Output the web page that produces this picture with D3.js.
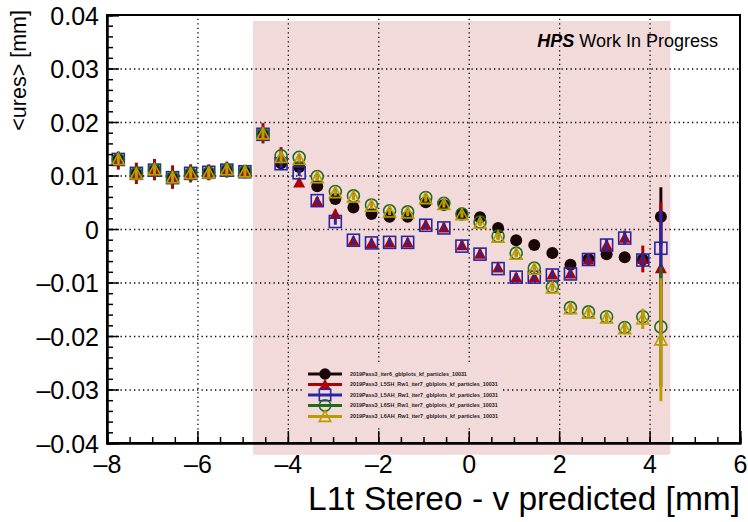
<!DOCTYPE html>
<html>
<head>
<meta charset="utf-8">
<script src="https://cdn.jsdelivr.net/npm/d3@7"></script>
<style>
  html, body { margin: 0; padding: 0; background: #ffffff; }
  svg { display: block; font-family: "Liberation Sans", Arial, Helvetica, sans-serif; }
</style>
</head>
<body>
<svg id="chart" width="748" height="522"></svg>
<script>
// Bin centres of the predicted v position [mm]
const binCenters = [-7.75, -7.35, -6.95, -6.55, -6.15, -5.75, -5.35, -4.95, -4.55, -4.15,
  -3.75, -3.35, -2.95, -2.55, -2.15, -1.75, -1.35, -0.95, -0.55, -0.15,
  0.25, 0.65, 1.05, 1.45, 1.85, 2.25, 2.65, 3.05, 3.45, 3.85, 4.25];

// Mean residual <ures> [mm] per sample
const iter6Mean = [0.0130, 0.0103, 0.0110, 0.0095, 0.0104, 0.0105, 0.0110, 0.0107, 0.0176, 0.0123,
  0.0116, 0.0080, 0.0056, 0.0040, 0.0028, 0.0023, 0.0023, 0.0050, 0.0045, 0.0029,
  0.0022, 0.0002, -0.0021, -0.0030, -0.0045, -0.0067, -0.0056, -0.0047, -0.0053, -0.0057, 0.0023];
const l5shMean = [0.0128, 0.0104, 0.0111, 0.0097, 0.0104, 0.0106, 0.0111, 0.0108, 0.0179, 0.0136,
  0.0087, 0.0052, 0.0028, -0.0022, -0.0026, -0.0025, -0.0025, 0.0008, 0.0003, -0.0030,
  -0.0046, -0.0072, -0.0090, -0.0090, -0.0085, -0.0083, -0.0057, -0.0030, -0.0016, -0.0056, -0.0073];
const l5ahMean = [0.0130, 0.0104, 0.0110, 0.0096, 0.0104, 0.0106, 0.0110, 0.0107, 0.0177, 0.0122,
  0.0105, 0.0053, 0.0014, -0.0021, -0.0026, -0.0025, -0.0025, 0.0007, 0.0002, -0.0032,
  -0.0047, -0.0074, -0.0090, -0.0090, -0.0086, -0.0084, -0.0057, -0.0030, -0.0017, -0.0058, -0.0036];
const l6shMean = [0.0130, 0.0104, 0.0110, 0.0096, 0.0103, 0.0105, 0.0110, 0.0107, 0.0177, 0.0137,
  0.0134, 0.0098, 0.0070, 0.0062, 0.0045, 0.0034, 0.0032, 0.0059, 0.0048, 0.0028,
  0.0013, -0.0013, -0.0045, -0.0073, -0.0108, -0.0147, -0.0155, -0.0164, -0.0184, -0.0164, -0.0183];
const l6ahMean = [0.0130, 0.0103, 0.0111, 0.0096, 0.0104, 0.0105, 0.0111, 0.0107, 0.0178, 0.0134,
  0.0130, 0.0096, 0.0068, 0.0060, 0.0043, 0.0032, 0.0030, 0.0057, 0.0046, 0.0027,
  0.0011, -0.0015, -0.0047, -0.0075, -0.0110, -0.0149, -0.0157, -0.0166, -0.0186, -0.0168, -0.0207];

// Statistical uncertainty on the mean [mm]
const iter6Err = [0.0008, 0.0008, 0.0008, 0.0008, 0.0008, 0.0008, 0.0008, 0.0008, 0.0008, 0.0008,
  0.0006, 0.0006, 0.0006, 0.0006, 0.0006, 0.0006, 0.0006, 0.0006, 0.0006, 0.0006,
  0.0006, 0.0006, 0.0006, 0.0006, 0.0006, 0.0007, 0.0007, 0.0008, 0.0009, 0.0012, 0.0055];
const l5shErr = [0.0017, 0.0020, 0.0020, 0.0022, 0.0017, 0.0015, 0.0015, 0.0012, 0.0019, 0.0017,
  0.0008, 0.0008, 0.0008, 0.0008, 0.0008, 0.0008, 0.0008, 0.0008, 0.0008, 0.0008,
  0.0008, 0.0008, 0.0008, 0.0008, 0.0008, 0.0009, 0.0010, 0.0011, 0.0013, 0.0025, 0.0123];
const l5ahErr = [0.0008, 0.0008, 0.0008, 0.0008, 0.0008, 0.0008, 0.0008, 0.0008, 0.0008, 0.0008,
  0.0006, 0.0006, 0.0006, 0.0006, 0.0006, 0.0006, 0.0006, 0.0006, 0.0006, 0.0006,
  0.0006, 0.0006, 0.0006, 0.0006, 0.0006, 0.0007, 0.0007, 0.0008, 0.0009, 0.0012, 0.0072];
const l6shErr = [0.0008, 0.0008, 0.0008, 0.0008, 0.0008, 0.0008, 0.0008, 0.0008, 0.0008, 0.0008,
  0.0006, 0.0006, 0.0006, 0.0006, 0.0006, 0.0006, 0.0006, 0.0006, 0.0006, 0.0006,
  0.0006, 0.0006, 0.0006, 0.0006, 0.0006, 0.0007, 0.0007, 0.0008, 0.0009, 0.0012, 0.0112];
const l6ahErr = [0.0008, 0.0008, 0.0008, 0.0008, 0.0008, 0.0008, 0.0008, 0.0008, 0.0008, 0.0008,
  0.0006, 0.0006, 0.0006, 0.0006, 0.0006, 0.0006, 0.0006, 0.0006, 0.0006, 0.0006,
  0.0006, 0.0006, 0.0006, 0.0006, 0.0006, 0.0007, 0.0007, 0.0008, 0.0009, 0.0019, 0.0115];

const seriesNames = [
  "2019Pass3_iter6_gblplots_kf_particles_10031",
  "2019Pass3_L5SH_Rw1_iter7_gblplots_kf_particles_10031",
  "2019Pass3_L5AH_Rw1_iter7_gblplots_kf_particles_10031",
  "2019Pass3_L6SH_Rw1_iter7_gblplots_kf_particles_10031",
  "2019Pass3_L6AH_Rw1_iter7_gblplots_kf_particles_10031"
];

// Axis ticks
const xMajorTicks = [-8, -6, -4, -2, 0, 2, 4, 6];
const yMajorTicks = [-0.04, -0.03, -0.02, -0.01, 0, 0.01, 0.02, 0.03, 0.04];

// Sensor acceptance band [mm] (x range) and its vertical extent in <ures> units
const acceptanceX = [-4.77, 4.46];
const acceptanceY = [0.0389, -0.0422];

// ---------------------------------------------------------------
const svg = d3.select("#chart");
const frame = { left: 107, right: 740, top: 15, bottom: 443 };

const x = d3.scaleLinear().domain([-8, 6]).range([frame.left, frame.right]);
const y = d3.scaleLinear().domain([-0.04, 0.04]).range([frame.bottom, frame.top]);

// Number formats using an en dash as the minus sign
const dashFmt = f => v => f(v).replace("\u2212", "\u2013");
const fmtX = dashFmt(d3.format("d"));
const fmtY = v => Math.abs(v) < 1e-9 ? "0" : dashFmt(d3.format(".2f"))(v);

const styles = [
  { color: "#1a0606", shape: "circle", fill: true },
  { color: "#b00000", shape: "triangle", fill: true },
  { color: "#2626a6", shape: "square", fill: false },
  { color: "#1f6b1f", shape: "circle", fill: false },
  { color: "#bb9c00", shape: "triangle", fill: false }
];
const means = [iter6Mean, l5shMean, l5ahMean, l6shMean, l6ahMean];
const errs = [iter6Err, l5shErr, l5ahErr, l6shErr, l6ahErr];

// Acceptance band
svg.append("rect")
  .attr("x", x(acceptanceX[0]))
  .attr("y", y(acceptanceY[0]))
  .attr("width", x(acceptanceX[1]) - x(acceptanceX[0]))
  .attr("height", y(acceptanceY[1]) - y(acceptanceY[0]))
  .attr("fill", "#f3dada");

// Dotted grid
const xMinor = d3.range(-8, 6.001, 0.5);
const yMinor = d3.range(-0.04, 0.0401, 0.002);

const gridX = svg.append("g")
  .attr("transform", `translate(0,${frame.bottom})`)
  .call(d3.axisBottom(x).tickValues(xMajorTicks.filter(v => v > -8 && v < 6))
    .tickSize(-(frame.bottom - frame.top)).tickFormat(""));
const gridY = svg.append("g")
  .attr("transform", `translate(${frame.left},0)`)
  .call(d3.axisLeft(y).tickValues(yMajorTicks.filter(v => Math.abs(v) < 0.039))
    .tickSize(-(frame.right - frame.left)).tickFormat(""));
[gridX, gridY].forEach(g => {
  g.select(".domain").remove();
  g.selectAll("line").attr("stroke", "#000").attr("stroke-width", 1.3)
    .attr("stroke-dasharray", "1.3,3.2");
});

// Legend box (hides grid beneath it)
const legendBox = { x: 303, y: 365, w: 200, h: 60 };
svg.append("rect")
  .attr("x", legendBox.x).attr("y", legendBox.y)
  .attr("width", legendBox.w).attr("height", legendBox.h)
  .attr("fill", "#f3dada");

// Marker drawing helper
function drawMarker(sel, st, scale) {
  const s = scale || 1;
  if (st.shape === "circle") {
    sel.append("circle")
      .attr("r", 6 * s)
      .attr("fill", st.fill ? st.color : "none")
      .attr("stroke", st.color)
      .attr("stroke-width", st.fill ? 0 : 1.6);
  } else if (st.shape === "square") {
    sel.append("rect")
      .attr("x", -6 * s).attr("y", -6 * s)
      .attr("width", 12 * s).attr("height", 12 * s)
      .attr("fill", "none")
      .attr("stroke", st.color)
      .attr("stroke-width", 1.6);
  } else {
    const h = 6 * s, w = 6 * s;
    sel.append("path")
      .attr("d", `M0,${-h}L${w},${h * 0.85}L${-w},${h * 0.85}Z`)
      .attr("fill", st.fill ? st.color : "none")
      .attr("stroke", st.color)
      .attr("stroke-width", st.fill ? 0 : 1.6)
      .attr("stroke-linejoin", "miter");
  }
}

// Data: error bars and markers, one series after another
means.forEach((vals, si) => {
  const st = styles[si];
  const g = svg.append("g");
  const pts = binCenters.map((xv, i) => ({ x: xv, y: vals[i], e: errs[si][i] }));
  g.selectAll("line.err").data(pts).join("line")
    .attr("class", "err")
    .attr("x1", d => x(d.x)).attr("x2", d => x(d.x))
    .attr("y1", d => y(d.y + d.e)).attr("y2", d => y(d.y - d.e))
    .attr("stroke", st.color).attr("stroke-width", 3);
  g.selectAll("g.pt").data(pts).join("g")
    .attr("class", "pt")
    .attr("transform", d => `translate(${x(d.x)},${y(d.y)})`)
    .each(function () { drawMarker(d3.select(this), st); });
});

// Frame
svg.append("rect")
  .attr("x", frame.left).attr("y", frame.top)
  .attr("width", frame.right - frame.left).attr("height", frame.bottom - frame.top)
  .attr("fill", "none").attr("stroke", "#000").attr("stroke-width", 2);

// X axis: major + minor ticks pointing inward
const xAxisMajor = svg.append("g")
  .attr("transform", `translate(0,${frame.bottom})`)
  .call(d3.axisBottom(x).tickValues(xMajorTicks).tickSize(-12).tickFormat(fmtX));
const xAxisMinor = svg.append("g")
  .attr("transform", `translate(0,${frame.bottom})`)
  .call(d3.axisBottom(x).tickValues(xMinor).tickSize(-6).tickFormat(""));

// Y axis
const yAxisMajor = svg.append("g")
  .attr("transform", `translate(${frame.left},0)`)
  .call(d3.axisLeft(y).tickValues(yMajorTicks).tickSize(-12).tickFormat(fmtY));
const yAxisMinor = svg.append("g")
  .attr("transform", `translate(${frame.left},0)`)
  .call(d3.axisLeft(y).tickValues(yMinor).tickSize(-6).tickFormat(""));

[xAxisMajor, xAxisMinor, yAxisMajor, yAxisMinor].forEach(g => {
  g.select(".domain").attr("stroke", "#000").attr("stroke-width", 2);
  g.selectAll(".tick line").attr("stroke", "#000").attr("stroke-width", 1.5);
});
xAxisMajor.selectAll(".tick text")
  .attr("font-size", 25).attr("fill", "#000")
  .attr("font-family", "Liberation Sans, Arial, sans-serif")
  .attr("dy", "0.35em").attr("y", 21);
yAxisMajor.selectAll(".tick text")
  .attr("font-size", 25).attr("fill", "#000")
  .attr("font-family", "Liberation Sans, Arial, sans-serif")
  .attr("x", -8).attr("dy", "0.36em");

// Axis titles
svg.append("text")
  .attr("x", 740).attr("y", 510)
  .attr("text-anchor", "end")
  .attr("font-size", 33.5)
  .attr("fill", "#000")
  .text("L1t Stereo - v predicted [mm]");

svg.append("text")
  .attr("transform", "translate(26,10) rotate(-90)")
  .attr("text-anchor", "end")
  .attr("font-size", 21.5)
  .attr("fill", "#000")
  .text("<ures> [mm]");

// Experiment label
const label = svg.append("text")
  .attr("x", 718).attr("y", 47)
  .attr("text-anchor", "end")
  .attr("font-size", 18)
  .attr("fill", "#000");
label.append("tspan").attr("font-weight", "bold").attr("font-style", "italic").text("HPS");
label.append("tspan").text(" Work In Progress");

// Legend entries
const legendRows = [374, 384.5, 395, 405.5, 416.5];
seriesNames.forEach((name, i) => {
  const st = styles[i];
  const row = svg.append("g").attr("transform", `translate(0,${legendRows[i]})`);
  row.append("line")
    .attr("x1", 308).attr("x2", 342).attr("y1", 0).attr("y2", 0)
    .attr("stroke", st.color).attr("stroke-width", 3);
  const m = row.append("g").attr("transform", "translate(325,0)");
  drawMarker(m, st, 0.95);
  row.append("text")
    .attr("x", 350).attr("y", 0).attr("dy", "0.35em")
    .attr("font-size", 5.4).attr("font-weight", "bold")
    .attr("fill", "#222")
    .text(name);
});
</script>
</body>
</html>
